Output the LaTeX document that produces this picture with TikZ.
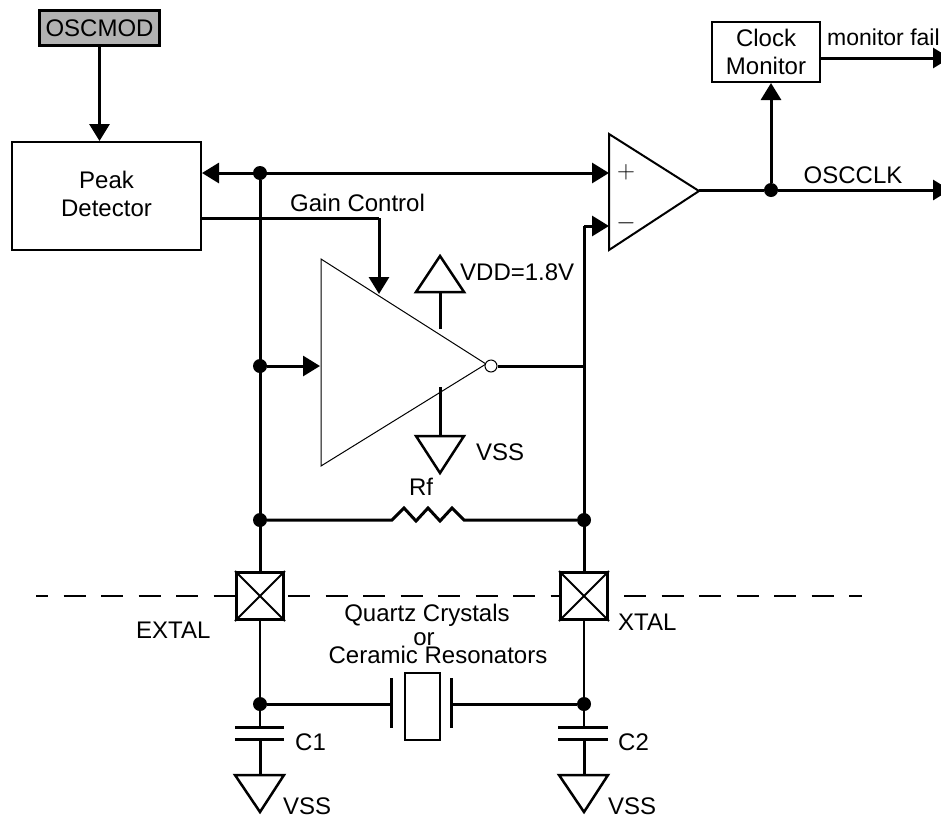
\documentclass[tikz,border=0pt]{standalone}
\usepackage{fontspec}
\setmainfont{Liberation Sans}
\usetikzlibrary{arrows.meta, positioning, calc}

\begin{document}
\begin{tikzpicture}[
    x=1pt, y=-1pt,
    font=\fontsize{24}{27.5}\selectfont,
    block/.style={draw, line width=2pt, fill=white, align=center, inner sep=0pt},
    lbl/.style={inner sep=0pt, anchor=base west},
    lblc/.style={inner sep=0pt, anchor=base},
    dot/.style={circle, fill=black, inner sep=0pt, minimum size=14pt},
    pad/.style={draw, line width=3pt, fill=white, inner sep=0pt, minimum size=47pt},
    wire/.style={line width=3pt},
    thinwire/.style={line width=2pt},
    signal/.style={line width=3pt, -{Triangle[length=17pt,width=20pt]}},
    both/.style={line width=3pt, {Triangle[length=17pt,width=20pt]}-{Triangle[length=17pt,width=20pt]}},
    cut/.style={line width=2pt, dash pattern=on 22pt off 15.5pt},
    plate/.style={line width=3pt},
    supply/.style={line width=2.5pt, line join=miter}
]
    \useasboundingbox (0,0) rectangle (941,817);

    % Nodes
    \node[block, line width=3pt, fill=black!30, minimum width=120pt, minimum height=35pt] (oscmod) at (99.5,28) {OSCMOD};
    \node[block, minimum width=189pt, minimum height=108pt] (peak) at (106.5,196) {Peak\\Detector\rule[-4pt]{0pt}{4pt}};
    \node[block, minimum width=108pt, minimum height=60pt] (monitor) at (766,52) {Clock\\Monitor};
    \node[pad] (extal) at (260,596) {};
    \node[pad] (xtal) at (584,596) {};

    % Comparator and inverter
    \coordinate (cmpa) at (609,134);
    \coordinate (cmpb) at (609,250);
    \coordinate (cmpout) at (699,191);
    \coordinate (cmpp) at (609,173);
    \coordinate (cmpn) at (609,226);
    \draw[line width=2pt, line join=miter] (cmpa) -- (cmpout) -- (cmpb) -- cycle;
    \coordinate (inva) at (321,259);
    \coordinate (invb) at (321,466);
    \coordinate (invtip) at (486,364);
    \coordinate (invin) at (320,366);
    \draw[line width=1pt] (inva) -- (invtip) -- (invb) -- cycle;
    \node[circle, draw, line width=1pt, fill=white, inner sep=0pt, minimum size=12pt] (bubble) at (491,366) {};

    % Junctions
    \node[dot] (ja) at (260,173) {};
    \node[dot] (jb) at (260,366) {};
    \node[dot] (jc) at (260,520) {};
    \node[dot] (jd) at (584,520) {};
    \node[dot] (je) at (260,704) {};
    \node[dot] (jf) at (584,704) {};
    \node[dot] (jg) at (771,190) {};
    \coordinate (jout) at (584,366);
    \coordinate (jn) at (584,226);
    \coordinate (gaina) at (379,218);
    \coordinate (gainb) at (379,294);
    \coordinate (failend) at (950,58);
    \coordinate (clkend) at (950,190);

    % Connections
    \draw[signal] (oscmod.south) -- (oscmod.south |- peak.north);
    \draw[both] (peak.east |- ja) -- (cmpp);
    \draw[wire] (ja) -- (extal.north);
    \draw[wire] (peak.east |- gaina) -- (gaina);
    \draw[signal] (gaina) -- (gainb);
    \draw[signal] (jb) -- (invin);
    \draw[wire] (bubble.east) -- (jout);
    \draw[wire] (xtal.north) -- (jn);
    \draw[signal] (jn) -- (cmpn);
    \draw[wire] (cmpout |- jg) -- (jg);
    \draw[signal] (jg) -- (clkend);
    \draw[signal] (jg) -- (jg |- monitor.south);
    \draw[signal] (monitor.east |- failend) -- (failend);

    % Rf
    \coordinate (rfa) at (392,520);
    \coordinate (rfb) at (464,520);
    \draw[wire, line join=miter] (jc) -- (rfa) -- ++(12,-12) -- ++(12,13) -- ++(12,-13) -- ++(12,13) -- ++(12,-13) -- (rfb) -- (jd);

    % Interface line
    \coordinate (cuta) at (36,596);
    \coordinate (cutb) at (624,596);
    \coordinate (cutc) at (862,596);
    \draw[cut, dash phase=10pt] (cuta) -- (extal.west);
    \draw[cut] (extal.east) ++(3,0) -- (xtal.west);
    \draw[cut] (cutb) -- (cutc);
    \draw[thinwire] (extal.north west) -- (extal.south east) (extal.north east) -- (extal.south west);
    \draw[thinwire] (xtal.north west) -- (xtal.south east) (xtal.north east) -- (xtal.south west);

    % Crystal
    \node[draw, line width=1.5pt, minimum width=35pt, minimum height=67pt, inner sep=0pt] (crystal) at (422.5,706.5) {};
    \coordinate (cryl) at (391,704);
    \coordinate (cryr) at (451,704);
    \draw[plate] (391,678) -- (391,728);
    \draw[plate] (451,678) -- (451,728);
    \draw[wire] (je) -- (cryl);
    \draw[wire] (cryr) -- (jf);
    \draw[thinwire] (extal.south) -- (je);
    \draw[thinwire] (xtal.south) -- (jf);

    % Capacitors
    \coordinate (capa) at (260,727);
    \coordinate (capb) at (260,739);
    \coordinate (capc) at (584,727);
    \coordinate (capd) at (584,739);
    \draw[plate] (235,727) -- (284,727) (235,739) -- (284,739);
    \draw[plate] (558,727) -- (608,727) (558,739) -- (608,739);
    \draw[thinwire] (je) -- (capa);
    \draw[thinwire] (jf) -- (capc);

    % Supplies
    \coordinate (vssa) at (260,775);
    \coordinate (vssb) at (584,775);
    \coordinate (vssc) at (440,436);
    \coordinate (vdd) at (440,292);
    \draw[wire] (capb) -- (vssa);
    \draw[wire] (capd) -- (vssb);
    \draw[wire] (440,387) -- (vssc);
    \draw[wire] (440,329) -- (vdd);
    \draw[supply] (235,775) -- (284,775) -- (260,812) -- cycle;
    \draw[supply] (559,775) -- (608,775) -- (584,812) -- cycle;
    \draw[supply] (416,436) -- (464,436) -- (440,473) -- cycle;
    \draw[supply] (416,292) -- (464,292) -- (440,256) -- cycle;

    % Labels
    \node[lbl] (lblgain) at (290,211) {Gain Control};
    \node[lbl] (lblvdd) at (460,280) {VDD=1.8V};
    \node[lbl] (lblvssa) at (476,460) {VSS};
    \node[lblc] (lblrf) at (421,495) {Rf};
    \node[lbl] (lblextal) at (136,638) {EXTAL};
    \node[lbl] (lblxtal) at (618,630) {XTAL};
    \node[lblc] (lblquartz) at (427,621) {Quartz Crystals};
    \node[lblc] (lblor) at (424,645) {or};
    \node[lblc] (lblceramic) at (438,663) {Ceramic Resonators};
    \node[lbl] (lblcone) at (295,750) {C1};
    \node[lbl] (lblctwo) at (618,750) {C2};
    \node[lbl] (lblvssb) at (283,814) {VSS};
    \node[lbl] (lblvssc) at (608,814) {VSS};
    \node[lbl, font=\fontsize{23}{27.5}\selectfont] (lblfail) at (827,45) {monitor fail};
    \node[lblc] (lblclk) at (853,183) {OSCCLK};
    \node[lblc] (lblplus) at (626,178) {$+$};
    \node[lblc] (lblminus) at (626,229) {$-$};
\end{tikzpicture}
\end{document}
